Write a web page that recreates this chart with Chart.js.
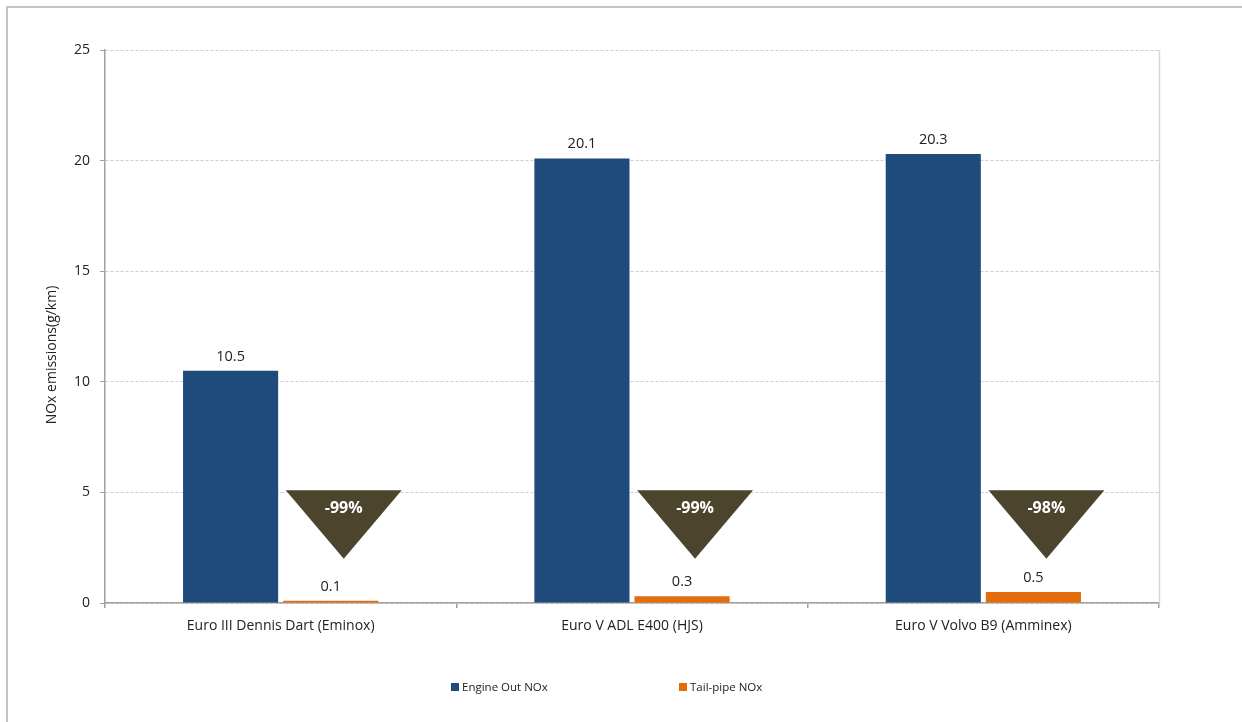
<!DOCTYPE html>
<html>
<head>
<meta charset="utf-8">
<script src="https://cdn.jsdelivr.net/npm/chart.js@4/dist/chart.umd.min.js"></script>
<style>
  html, body { margin: 0; padding: 0; background: #ffffff; }
  #wrap { width: 1242px; height: 722px; position: relative; }
</style>
</head>
<body>
<div id="wrap"><canvas id="c" width="1242" height="722"></canvas></div>
<script>
const categories = ['Euro III Dennis Dart (Eminox)', 'Euro V ADL E400 (HJS)', 'Euro V Volvo B9 (Amminex)'];
const seriesNames = ['Engine Out NOx', 'Tail-pipe NOx'];
const engineOut = [10.5, 20.1, 20.3];
const tailPipe = [0.1, 0.3, 0.5];
const reductions = ['-99%', '-99%', '-98%'];
const yAxisTitle = 'NOx emissions(g/km)';
const yMin = 0, yMax = 25, yStep = 5;

const FONT = '"Open Sans", Lato, sans-serif';
const BLUE = '#1f4a7c';
const ORANGE = '#e46c0a';
const TRI = '#4b452d';

const framePlugin = {
  id: 'frame',
  beforeDraw(chart) {
    const ctx = chart.ctx;
    ctx.save();
    ctx.fillStyle = '#ffffff';
    ctx.fillRect(0, 0, chart.width, chart.height);
    ctx.strokeStyle = '#c4c4c4';
    ctx.lineWidth = 2;
    ctx.strokeRect(7, 7, chart.width + 40, chart.height + 40);
    ctx.restore();
  },
  afterDraw(chart) {
    const ctx = chart.ctx, a = chart.chartArea;
    ctx.save();
    ctx.strokeStyle = '#d6d6d6';
    ctx.lineWidth = 1.5;
    ctx.beginPath();
    ctx.moveTo(a.right + 0.5, a.top);
    ctx.lineTo(a.right + 0.5, a.bottom);
    ctx.stroke();
    // y axis title
    ctx.translate(52, 355);
    ctx.rotate(-Math.PI / 2);
    ctx.fillStyle = '#222';
    ctx.font = '14px ' + FONT;
    ctx.textAlign = 'center';
    ctx.textBaseline = 'middle';
    ctx.fillText(yAxisTitle, 0, 0);
    ctx.restore();
    // legend
    ctx.save();
    ctx.font = '11.5px ' + FONT;
    ctx.textBaseline = 'middle';
    const ly = 687;
    const lx = [451, 679];
    chart.data.datasets.forEach((ds, i) => {
      ctx.fillStyle = ds.backgroundColor;
      ctx.fillRect(lx[i], ly - 4, 8, 8);
      ctx.fillStyle = '#222';
      ctx.fillText(ds.label, lx[i] + 11, ly + 0.5);
    });
    ctx.restore();
  }
};

const labelPlugin = {
  id: 'barLabels',
  afterDatasetsDraw(chart) {
    const ctx = chart.ctx;
    ctx.save();
    ctx.font = '14.5px ' + FONT;
    ctx.fillStyle = '#222';
    ctx.textAlign = 'center';
    ctx.textBaseline = 'bottom';
    chart.data.datasets.forEach((ds, di) => {
      chart.getDatasetMeta(di).data.forEach((bar, i) => {
        ctx.fillText(ds.data[i].toFixed(1), bar.x, bar.y - 7);
      });
    });
    // reduction triangles
    const ys = chart.scales.y;
    const xs = chart.scales.x;
    const catW = (xs.right - xs.left) / categories.length;
    const meta = chart.getDatasetMeta(1);
    meta.data.forEach((bar, i) => {
      const cx = bar.x + catW * 0.037;
      const top = ys.getPixelForValue(5.1);
      const apex = ys.getPixelForValue(2.0);
      const hw = catW * 0.165;
      ctx.fillStyle = TRI;
      ctx.beginPath();
      ctx.moveTo(cx - hw, top);
      ctx.lineTo(cx + hw, top);
      ctx.lineTo(cx, apex);
      ctx.closePath();
      ctx.fill();
      ctx.fillStyle = '#ffffff';
      ctx.font = 'bold 16px ' + FONT;
      ctx.textBaseline = 'middle';
      ctx.fillText(reductions[i], cx, top + 18);
    });
    ctx.restore();
  }
};

new Chart(document.getElementById('c'), {
  type: 'bar',
  data: {
    labels: categories,
    datasets: [
      { label: seriesNames[0], data: engineOut, backgroundColor: BLUE, borderWidth: 0 },
      { label: seriesNames[1], data: tailPipe, backgroundColor: ORANGE, borderWidth: 0 }
    ]
  },
  options: {
    responsive: false,
    devicePixelRatio: 1,
    animation: false,
    layout: { padding: { top: 50, right: 83, left: 0, bottom: 0 } },
    datasets: { bar: { categoryPercentage: 0.57, barPercentage: 0.95 } },
    plugins: { legend: { display: false }, tooltip: { enabled: false } },
    scales: {
      x: {
        afterFit(s) { s.height = 119; },
        grid: { drawOnChartArea: false, drawTicks: true, tickLength: 5, color: '#a0a0a0', lineWidth: 1.5 },
        border: { display: true, color: '#a0a0a0', width: 1.5 },
        ticks: { font: { family: FONT, size: 14 }, color: '#222', padding: 10, maxRotation: 0 }
      },
      y: {
        min: yMin, max: yMax,
        afterFit(s) { s.width = 105; },
        grid: { color: '#cfcfcf', lineWidth: 1, drawTicks: true, tickLength: 5, tickColor: '#a0a0a0', tickBorderDash: [] },
        border: { display: true, color: '#a0a0a0', width: 1.5, dash: [3, 2] },
        ticks: { stepSize: yStep, font: { family: FONT, size: 14 }, color: '#222', padding: 10 }
      }
    }
  },
  plugins: [framePlugin, labelPlugin]
});
</script>
</body>
</html>
